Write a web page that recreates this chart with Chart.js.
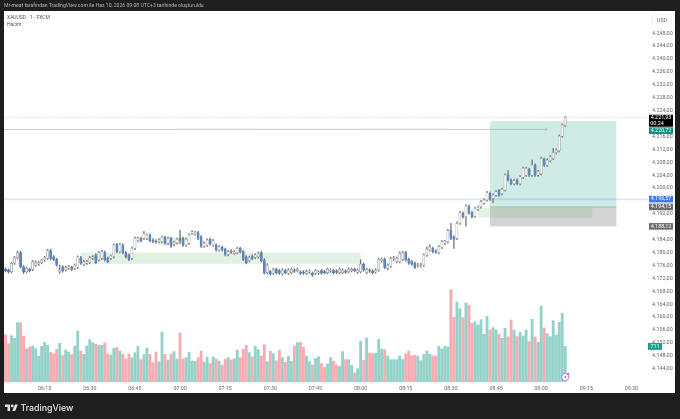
<!DOCTYPE html>
<html>
<head>
<meta charset="utf-8">
<title>XAUUSD</title>
<script src="https://cdn.jsdelivr.net/npm/chart.js@4/dist/chart.umd.min.js"></script>
<style>
html, body { margin: 0; padding: 0; background: #1e1e1e; width: 680px; height: 419px; overflow: hidden; }
#panel { position: absolute; left: 4px; top: 11px; width: 671px; height: 382px; background: #fff; }
#c1 { position: absolute; left: 0; top: 0; filter: blur(0.35px); }
.txt { position: absolute; white-space: nowrap; font-family: Roboto, "Liberation Sans", sans-serif; filter: blur(0.25px); }
</style>
</head>
<body>
<div id="panel"></div>
<canvas id="c1" width="680" height="419"></canvas>
<div class="txt" style="left:4px;top:2px;font-size:5.1px;color:#b4b4b4">Mr-meat tarafından TradingView.com ile Haz 10, 2026 09:08 UTC+3 tarihinde oluşturuldu</div>
<div class="txt" style="left:7px;top:14px;font-size:5px;color:#555">XAUUSD · 1 · FXCM</div>
<div class="txt" style="left:7px;top:21px;font-size:5px;color:#555">Hacim</div>
<div class="txt" style="left:652px;top:14px;width:20px;height:10px;line-height:10px;text-align:center;font-size:5.2px;color:#666;border:1px solid #f2f2f2;box-sizing:border-box">USD</div>
<svg style="position:absolute;left:5px;top:403px" width="13" height="8" viewBox="0 0 36 22"><path fill="#e4e4e4" d="M14 22H7V11H0V4h14v18zM28 22h-8l7.5-18h8L28 22z"/><circle fill="#e4e4e4" cx="20" cy="8" r="4"/></svg>
<div class="txt" style="left:20.5px;top:402px;font-size:8.8px;font-weight:500;color:#e4e4e4;font-family:Inter,Roboto,sans-serif">TradingView</div>
<script>
var opens = [
4174.8,4174.6,4174.1,4176.7,4178.4,4180.0,4175.6,4174.1,4174.8,4174.8,
4176.1,4176.4,4176.9,4177.7,4178.2,4180.6,4178.7,4177.9,4174.1,4175.6,
4174.6,4175.1,4175.4,4175.1,4175.4,4178.4,4176.3,4176.7,4176.9,4178.2,
4179.2,4177.7,4178.2,4180.0,4178.2,4178.2,4178.7,4182.5,4180.3,4182.3,
4180.0,4179.2,4178.2,4181.3,4183.7,4184.4,4184.4,4184.4,4185.4,4183.9,
4183.6,4183.4,4183.4,4184.7,4182.9,4184.4,4182.5,4183.1,4184.4,4184.4,
4182.3,4182.9,4186.0,4185.8,4186.2,4184.9,4182.0,4182.3,4184.1,4182.3,
4182.3,4180.8,4181.6,4181.0,4179.4,4180.5,4179.8,4180.0,4181.3,4180.3,
4178.7,4177.5,4178.9,4178.5,4178.7,4180.0,4177.7,4173.8,4174.1,4173.6,
4174.8,4174.4,4173.4,4174.4,4173.6,4173.8,4174.6,4174.4,4174.0,4174.0,
4173.6,4173.9,4173.6,4173.6,4173.6,4174.4,4174.1,4173.8,4174.2,4174.4,
4174.3,4173.8,4173.8,4174.3,4174.1,4174.4,4174.8,4173.9,4174.1,4176.4,
4173.8,4174.6,4174.3,4174.0,4174.6,4177.4,4177.9,4175.1,4175.8,4178.0,
4177.2,4177.2,4177.9,4180.0,4177.9,4177.2,4176.7,4175.9,4175.9,4176.1,
4179.2,4180.8,4181.3,4180.5,4180.0,4181.6,4182.9,4183.4,4186.8,4184.9,
4184.4,4189.1,4192.2,4191.1,4194.4,4192.4,4191.3,4193.4,4194.2,4195.3,
4196.3,4198.4,4196.8,4197.8,4199.2,4198.3,4199.4,4204.0,4202.5,4201.4,
4202.5,4201.4,4203.3,4204.0,4205.8,4204.0,4207.1,4204.0,4204.5,4208.9,
4207.1,4208.5,4209.2,4211.0,4211.6,4216.1,4219.5
];
var closes = [
4174.4,4174.0,4176.7,4178.4,4180.0,4175.6,4174.1,4175.1,4174.4,4177.2,
4177.0,4176.9,4177.7,4178.4,4180.6,4178.2,4177.9,4176.1,4174.6,4174.3,
4175.4,4175.6,4174.8,4176.1,4178.7,4176.7,4177.2,4177.2,4178.4,4178.7,
4176.9,4180.0,4180.3,4177.7,4177.2,4178.9,4182.3,4180.3,4182.5,4180.0,
4178.7,4177.9,4181.3,4184.4,4184.4,4183.7,4185.8,4185.4,4183.7,4183.4,
4183.2,4183.9,4184.7,4182.9,4184.4,4182.0,4183.2,4184.1,4183.7,4182.3,
4184.1,4185.4,4186.4,4186.3,4184.4,4182.0,4182.9,4183.9,4182.7,4183.7,
4180.8,4181.8,4180.8,4179.4,4180.3,4180.1,4180.2,4181.3,4180.3,4177.9,
4176.9,4178.5,4178.2,4179.2,4179.8,4177.5,4173.8,4176.1,4173.4,4174.8,
4173.8,4173.6,4174.6,4173.8,4174.6,4174.8,4174.2,4174.8,4173.6,4173.6,
4174.1,4174.3,4173.0,4174.4,4174.0,4173.6,4173.8,4174.8,4174.6,4173.8,
4173.9,4174.8,4174.6,4173.9,4174.8,4174.8,4174.4,4174.6,4176.4,4174.6,
4174.8,4174.2,4173.8,4174.6,4177.9,4177.9,4175.4,4176.1,4178.2,4178.4,
4178.2,4179.8,4180.0,4177.7,4176.7,4176.4,4175.4,4176.3,4176.3,4179.2,
4181.0,4181.6,4180.3,4180.1,4181.8,4183.4,4183.4,4186.8,4184.4,4184.1,
4189.1,4192.4,4191.1,4194.4,4192.2,4191.1,4193.7,4194.0,4195.8,4196.3,
4198.6,4196.5,4197.8,4198.9,4197.8,4199.6,4204.0,4202.5,4201.4,4202.3,
4201.4,4203.5,4206.1,4206.1,4204.0,4207.1,4204.0,4205.1,4209.2,4207.1,
4208.7,4209.7,4211.0,4211.8,4216.1,4219.5,4221.93
];
var highs = [
4175.3,4175.0,4177.0,4178.8,4180.5,4180.4,4176.0,4175.5,4175.2,4177.6,
4177.4,4177.3,4178.0,4178.8,4181.0,4181.1,4179.1,4178.2,4176.2,4176.0,
4175.8,4176.0,4175.7,4176.5,4179.0,4178.8,4177.6,4177.6,4178.8,4179.1,
4179.6,4180.4,4180.7,4180.5,4178.6,4179.2,4182.7,4182.9,4182.9,4182.8,
4180.4,4179.6,4181.7,4184.9,4184.8,4184.8,4186.6,4185.8,4185.8,4184.3,
4184.0,4184.3,4185.1,4185.1,4184.8,4184.8,4183.6,4184.5,4187.0,4184.8,
4184.5,4185.8,4186.8,4186.7,4186.6,4185.3,4183.3,4184.3,4184.5,4184.1,
4182.7,4182.2,4182.0,4181.4,4180.7,4180.9,4180.6,4181.7,4181.7,4180.7,
4179.1,4178.9,4179.3,4179.6,4180.2,4180.4,4178.1,4176.5,4174.5,4175.2,
4175.2,4174.8,4175.0,4174.8,4175.0,4175.2,4175.0,4175.2,4174.4,4174.4,
4174.5,4174.7,4174.0,4174.8,4174.4,4174.8,4174.5,4175.2,4175.0,4174.8,
4174.7,4175.2,4175.0,4174.7,4175.2,4175.2,4175.2,4175.0,4177.8,4176.8,
4175.2,4175.0,4174.7,4175.0,4178.3,4178.3,4178.3,4176.5,4178.6,4178.8,
4178.6,4180.2,4180.4,4180.4,4178.3,4177.6,4177.1,4176.7,4176.7,4179.6,
4181.8,4182.4,4181.7,4180.9,4182.2,4183.8,4183.8,4187.2,4189.1,4185.3,
4189.5,4192.8,4192.6,4194.8,4194.8,4192.8,4194.1,4194.4,4196.2,4196.7,
4199.0,4198.8,4198.2,4199.3,4199.6,4200.0,4204.4,4205.4,4202.9,4202.7,
4202.9,4203.9,4206.5,4206.5,4206.2,4208.7,4207.5,4205.5,4209.6,4209.3,
4209.1,4210.1,4212.3,4212.2,4216.5,4219.9,4222.2
];
var lows = [
4174.0,4173.6,4173.7,4176.3,4178.0,4175.2,4173.5,4173.7,4174.0,4174.4,
4175.7,4176.0,4176.5,4177.3,4177.8,4177.8,4177.5,4175.7,4173.6,4173.9,
4174.2,4174.7,4174.4,4174.7,4175.0,4176.3,4175.9,4176.3,4176.5,4177.8,
4176.5,4177.3,4177.8,4177.3,4176.8,4177.8,4178.3,4179.9,4179.9,4179.6,
4178.3,4177.5,4177.8,4180.9,4183.3,4183.3,4184.0,4184.0,4183.3,4183.0,
4182.8,4183.0,4183.0,4182.5,4182.5,4181.6,4182.1,4182.7,4182.9,4181.9,
4181.9,4182.5,4185.6,4185.4,4184.0,4181.6,4181.6,4181.9,4182.3,4181.9,
4180.4,4180.4,4180.4,4179.0,4179.0,4179.7,4179.4,4179.6,4179.9,4177.5,
4176.5,4177.1,4177.8,4178.1,4178.3,4177.1,4173.4,4173.4,4173.0,4173.2,
4173.4,4173.2,4173.0,4173.4,4173.2,4173.4,4173.8,4174.0,4173.2,4173.2,
4173.2,4173.5,4172.6,4173.2,4173.2,4173.2,4173.4,4173.4,4173.8,4173.4,
4173.5,4173.4,4173.4,4173.5,4173.7,4174.0,4174.0,4173.5,4173.7,4174.2,
4173.4,4173.8,4173.4,4173.6,4174.2,4177.0,4175.0,4174.7,4175.4,4177.6,
4176.8,4176.8,4177.5,4177.3,4176.3,4176.0,4175.0,4175.5,4175.5,4175.7,
4178.8,4180.4,4179.9,4179.7,4179.6,4181.2,4182.5,4183.0,4184.0,4181.3,
4184.0,4188.7,4190.7,4188.2,4191.8,4190.7,4190.9,4193.0,4193.8,4194.9,
4195.9,4196.1,4195.5,4197.4,4197.4,4197.9,4199.0,4202.1,4201.0,4201.0,
4201.0,4201.0,4202.9,4203.6,4203.6,4203.6,4203.6,4203.6,4204.1,4206.7,
4206.7,4208.1,4208.8,4210.6,4211.2,4215.7,4219.1
];
var volumes = [
940,767,927,874,1187,1187,920,660,700,720,667,520,714,794,734,594,567,654,774,527,
640,600,547,720,1020,620,554,720,847,787,754,734,734,780,560,540,674,694,620,560,
460,560,487,587,714,447,547,680,554,387,600,407,1000,554,440,560,607,460,980,460,
487,594,420,414,487,620,400,500,367,500,460,420,334,454,
487,440,460,640,487,654,734,587,500,714,647,520,747,407,614,567,420,634,487,394,
514,414,720,787,794,700,520,407,340,467,507,367,293,360,487,414,340,313,607,447,
447,334,180,267,814,434,880,580,567,574,854,660,647,520,447,447,447,520,447,560,
620,527,534,520,427,554,620,560,520,520,714,660,714,700,
1847,1294,1600,1467,1287,1580,1534,1174,1207,1140,1247,954,1314,1040,1087,1040,954,874,1074,900,
1240,1040,907,994,920,1040,807,1254,900,794,1520,1080,967,907,1227,940,1194,1374,711
];
var priceTicks = [4248,4244,4240,4236,4232,4228,4224,4216,4212,4208,4204,4200,4192,4184,4180,4176,4172,4168,4164,4160,4156,4152,4148,4144];
var timeTicks = ['06:15','06:30','06:45','07:00','07:15','07:30','07:45','08:00','08:15','08:30','08:45','09:00','09:15','09:30'];

// one label per minute, the axis runs on past the last bar
var minutes = [];
for (var m = 6 * 60 + 2; m <= 9 * 60 + 35; m++) {
    minutes.push(('0' + Math.floor(m / 60)).slice(-2) + ':' + ('0' + (m % 60)).slice(-2));
}

// drawings: from, to, price top, price bottom
var zoneFrom = ['06:27', '06:53', '08:39'];
var zoneTo = ['08:00', '07:03', '09:17'];
var zoneTop = [4180.0, 4184.7, 4193.9];
var zoneBottom = [4176.5, 4182.3, 4190.8];
var targetBox = ['08:43', '09:25', 4220.72, 4194.15];
var stopBox = ['08:43', '09:25', 4194.15, 4188.12];
var lastPrice = 4221.93;
var bluePrice = 4196.57;
var arrowPrice = 4218.2;
var arrowEnd = '09:02';
var tagPrices = [4221.93, 4220.72, 4196.57, 4194.15, 4188.12];
var tagTexts = ['4.221,93', '4.220,72', '4.196,57', '4.194,15', '4.188,12'];
var tagColors = ['#000', '#0f8f7c', '#3f78f0', '#6d6d6d', '#6d6d6d'];

var upColor = '#f7f7f7';
var downColor = '#5f89c2';

function isUp(i) { return closes[i] >= opens[i]; }
function fmt(v) { return v.toLocaleString('tr-TR', { minimumFractionDigits: 2, maximumFractionDigits: 2 }); }

var drawingsPlugin = {
    id: 'drawings',
    beforeDatasetsDraw: function (chart) {
        var c = chart.ctx, x = chart.scales.x, y = chart.scales.y, a = chart.chartArea;
        function px(t) { return x.getPixelForValue(minutes.indexOf(t)); }
        function box(from, to, top, bottom, color) {
            c.fillStyle = color;
            c.fillRect(px(from), y.getPixelForValue(top), px(to) - px(from), y.getPixelForValue(bottom) - y.getPixelForValue(top));
        }
        c.save();
        box(targetBox[0], targetBox[1], targetBox[2], targetBox[3], 'rgba(8,153,129,0.2)');
        box(stopBox[0], stopBox[1], stopBox[2], stopBox[3], 'rgba(90,90,90,0.26)');
        for (var i = 0; i < zoneFrom.length; i++) {
            box(zoneFrom[i], zoneTo[i], zoneTop[i], zoneBottom[i], 'rgba(90,170,100,0.17)');
        }
        // entry line of the position
        c.strokeStyle = '#9aa5a2';
        c.lineWidth = 0.7;
        c.beginPath();
        c.moveTo(px(targetBox[0]), y.getPixelForValue(targetBox[3]));
        c.lineTo(px(targetBox[1]), y.getPixelForValue(targetBox[3]));
        c.stroke();
        // blue band
        c.strokeStyle = 'rgba(70,100,240,0.16)';
        c.lineWidth = 2;
        c.beginPath();
        c.moveTo(a.left, y.getPixelForValue(bluePrice));
        c.lineTo(a.right, y.getPixelForValue(bluePrice));
        c.stroke();
        // arrow
        var ay = y.getPixelForValue(arrowPrice), ax = px(arrowEnd);
        c.strokeStyle = '#a8b0ae';
        c.lineWidth = 0.7;
        c.beginPath();
        c.moveTo(a.left, ay);
        c.lineTo(ax, ay);
        c.moveTo(ax - 2, ay - 1.5);
        c.lineTo(ax, ay);
        c.lineTo(ax - 2, ay + 1.5);
        c.stroke();
        // last price line
        c.strokeStyle = '#a0a0a0';
        c.lineWidth = 0.5;
        c.setLineDash([1, 1.5]);
        c.beginPath();
        c.moveTo(a.left, y.getPixelForValue(lastPrice));
        c.lineTo(a.right, y.getPixelForValue(lastPrice));
        c.stroke();
        c.restore();
    },
    afterDraw: function (chart) {
        var c = chart.ctx, x = chart.scales.x, y = chart.scales.y, v = chart.scales.vol, a = chart.chartArea;
        c.save();
        c.font = '5.4px Roboto, "Liberation Sans", sans-serif';
        c.textBaseline = 'middle';
        c.textAlign = 'center';
        var lastBottom = 0;
        for (var i = 0; i < tagPrices.length; i++) {
            var cy = y.getPixelForValue(tagPrices[i]);
            var h = i === 0 ? 12 : 6.6;
            var top = i === 0 ? cy - 2.6 : cy - h / 2;
            if (top < lastBottom) top = lastBottom + 0.6;
            c.fillStyle = tagColors[i];
            c.fillRect(a.right + 1, top, 24, h);
            c.fillStyle = '#fff';
            c.fillText(tagTexts[i], a.right + 13, top + 3.3);
            if (i === 0) c.fillText('00:24', a.right + 9, top + 8.8);
            lastBottom = top + h;
        }
        // volume tag
        var vy = v.getPixelForValue(volumes[volumes.length - 1]);
        c.fillStyle = '#17a08c';
        c.fillRect(a.right, vy - 3.4, 14, 6.8);
        c.fillStyle = '#fff';
        c.fillText(String(volumes[volumes.length - 1]), a.right + 7, vy);
        // marker under the last bar
        var mx = x.getPixelForValue(volumes.length - 1), my = a.bottom - 5;
        c.fillStyle = '#fff';
        c.strokeStyle = '#b65fd8';
        c.lineWidth = 0.8;
        c.beginPath();
        c.arc(mx, my, 3.6, 0, Math.PI * 2);
        c.fill();
        c.stroke();
        c.fillStyle = '#b65fd8';
        c.beginPath();
        c.arc(mx, my, 1, 0, Math.PI * 2);
        c.fill();
        c.fillStyle = '#e8457a';
        c.beginPath();
        c.arc(mx + 3, my - 3, 1, 0, Math.PI * 2);
        c.fill();
        c.restore();
    }
};

var ctx = document.getElementById('c1');
var myChart = new Chart(ctx, {
    type: 'bar',
    plugins: [drawingsPlugin],
    data: {
        labels: minutes,
        datasets: [
            {
                label: 'Hacim',
                yAxisID: 'vol',
                data: volumes,
                grouped: false,
                order: 3,
                barThickness: 2.2,
                backgroundColor: function (c) {
                    return isUp(c.dataIndex) ? 'rgba(8,153,129,0.44)' : 'rgba(242,54,69,0.42)';
                }
            },
            {
                label: 'wick',
                yAxisID: 'y',
                data: highs.map(function (h, i) { return [lows[i], h]; }),
                grouped: false,
                order: 2,
                barThickness: 0.7,
                backgroundColor: '#777'
            },
            {
                label: 'XAUUSD',
                yAxisID: 'y',
                data: opens.map(function (o, i) { return [o, closes[i]]; }),
                grouped: false,
                order: 1,
                barThickness: 2.2,
                borderSkipped: false,
                borderWidth: 0.5,
                borderColor: function (c) { return isUp(c.dataIndex) ? '#888' : '#4f7cb5'; },
                backgroundColor: function (c) { return isUp(c.dataIndex) ? upColor : downColor; }
            }
        ]
    },
    options: {
        responsive: false,
        animation: false,
        maintainAspectRatio: false,
        layout: { padding: { left: 4, top: 11, right: 5, bottom: 26 } },
        plugins: { legend: { display: false }, tooltip: { enabled: false } },
        scales: {
            x: {
                grid: { display: false, tickLength: 0, drawTicks: false },
                border: { display: false },
                afterFit: function (s) { s.height = 11; },
                afterBuildTicks: function (s) {
                    s.ticks = timeTicks.map(function (t) { return { value: minutes.indexOf(t) }; });
                },
                ticks: {
                    autoSkip: false,
                    maxRotation: 0,
                    padding: 3,
                    color: '#666',
                    font: { size: 5.3, family: 'Roboto, "Liberation Sans", sans-serif' },
                    callback: function (val) { return minutes[val]; }
                }
            },
            y: {
                position: 'right',
                min: 4139.87,
                max: 4254.9,
                grid: { display: false, tickLength: 0, drawTicks: false },
                border: { display: false },
                afterFit: function (s) { s.width = 27; },
                afterBuildTicks: function (s) {
                    s.ticks = priceTicks.map(function (p) { return { value: p }; });
                },
                ticks: {
                    padding: 4,
                    color: '#666',
                    font: { size: 5.4, family: 'Roboto, "Liberation Sans", sans-serif' },
                    callback: function (val) { return fmt(val); }
                }
            },
            vol: {
                display: false,
                min: 0,
                max: 7420
            }
        }
    }
});
</script>
</body>
</html>
